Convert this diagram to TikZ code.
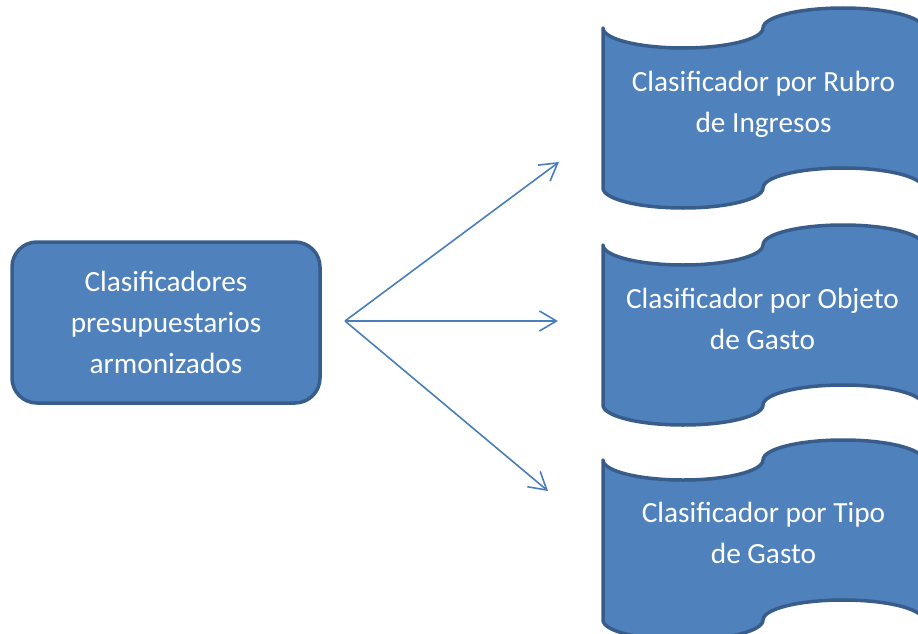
\documentclass[tikz,border=0pt]{standalone}
\usepackage{fontspec}
\setmainfont{Carlito}
\usetikzlibrary{arrows.meta}
\definecolor{shapefill}{HTML}{4F81BD}
\definecolor{shapeline}{HTML}{385D8A}
\definecolor{arrowcol}{HTML}{4A7EBB}
\tikzset{
  boxstyle/.style={draw=shapeline, fill=shapefill, line width=3.5pt, rounded corners=25pt,
    minimum width=308pt, minimum height=161pt, inner sep=0pt, text=white, align=center,
    font=\fontsize{29.3}{41}\selectfont},
  tapestyle/.style={draw=shapeline, fill=shapefill, line width=3.5pt, line join=round},
  tapetext/.style={text=white, align=center, inner sep=0pt, font=\fontsize{29.3}{41}\selectfont},
  conn/.style={draw=arrowcol, line width=1.6pt, -{Straight Barb[length=17pt,width=20pt,line width=1.6pt]}},
  tape/.pic={
    \path[tapestyle] (0,20) .. controls (0,31.05) and (35.82,40) .. (80,40)
      .. controls (124.18,40) and (160,31.05) .. (160,20)
      .. controls (160,8.95) and (195.82,0) .. (240,0)
      .. controls (284.18,0) and (320,8.95) .. (320,20)
      -- (320,180)
      .. controls (320,168.95) and (284.18,160) .. (240,160)
      .. controls (195.82,160) and (160,168.95) .. (160,180)
      .. controls (160,191.05) and (124.18,200) .. (80,200)
      .. controls (35.82,200) and (0,191.05) .. (0,180) -- cycle;
  }
}
\begin{document}
\begin{tikzpicture}[x=1pt,y=-1pt]
\useasboundingbox (0,0) rectangle (918,634);
\begin{scope}
\clip (0,0) rectangle (918,634);
\pic at (603,8) {tape};
\pic at (603,225) {tape};
\pic at (603,440) {tape};
\node[tapetext] (r1) at (763.5,104.5) {Clasificador por Rubro\\de Ingresos};
\node[tapetext] (r2) at (762.5,318.5) {Clasificador por Objeto\\de Gasto};
\node[tapetext] (r3) at (763.5,532.5) {Clasificador por Tipo\\de Gasto};
\node[boxstyle] (src) at (166,322.5) {Clasificadores\\presupuestarios\\armonizados};
\coordinate (s) at (345,321);
\coordinate (e1) at (559,162);
\coordinate (e2) at (558,321);
\coordinate (e3) at (548,491);
\draw[conn] (s) -- (e1);
\draw[conn] (s) -- (e2);
\draw[conn] (s) -- (e3);
\end{scope}
\end{tikzpicture}
\end{document}
